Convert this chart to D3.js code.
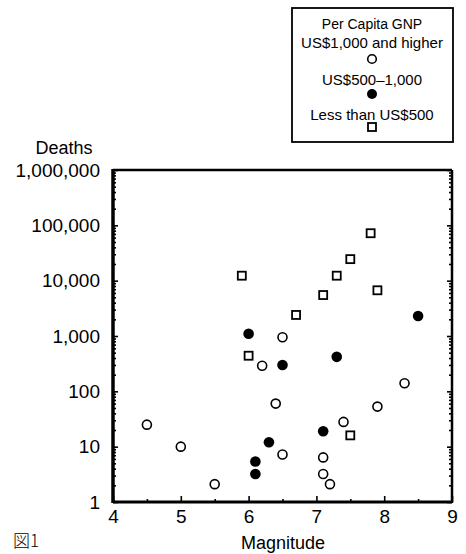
<!DOCTYPE html>
<html>
<head>
<meta charset="utf-8">
<script src="https://cdn.jsdelivr.net/npm/d3@7"></script>
<style>
  body { margin: 0; background: #fff; }
  svg { font-family: "Liberation Sans", Arial, sans-serif; }
  .axis text { font-size: 19px; fill: #000; }
  .axis line { stroke: #000; stroke-width: 1.6; }
  .legend text { font-size: 15px; fill: #000; }
</style>
</head>
<body>
<div id="chart"></div>
<script>
  // earthquakes: magnitude vs deaths, by per capita GNP group
  var highMag = [4.5, 5.0, 5.5, 6.2, 6.4, 6.5, 6.5, 7.1, 7.1, 7.2, 7.4, 7.9, 8.3]
  var highDeaths = [25, 10, 2.1, 290, 60, 950, 7.2, 6.4, 3.2, 2.1, 28, 53, 140]

  var midMag = [6.0, 6.5, 6.3, 6.1, 6.1, 7.3, 7.1, 8.5]
  var midDeaths = [1100, 300, 12, 5.4, 3.2, 420, 19, 2300]

  var lowMag = [5.9, 6.0, 6.7, 7.1, 7.3, 7.5, 7.8, 7.9, 7.5]
  var lowDeaths = [12300, 440, 2400, 5500, 12300, 24500, 72000, 6700, 16]

  var xTicks = [4, 5, 6, 7, 8, 9]
  var xMinor = [4.5, 5.5, 6.5, 7.5, 8.5]
  var yTicks = [1, 10, 100, 1000, 10000, 100000, 1000000]

  var legendTitle = "Per Capita GNP"
  var legendLabels = ["US$1,000 and higher", "US$500\u20131,000", "Less than US$500"]

  var width = 466, height = 554;
  var plotLeft = 113, plotRight = 452, plotTop = 170, plotBottom = 502;

  var svg = d3.select("#chart").append("svg")
    .attr("width", width)
    .attr("height", height);

  var x = d3.scaleLinear().domain([4, 9]).range([plotLeft, plotRight]);
  var y = d3.scaleLog().domain([1, 1000000]).range([plotBottom, plotTop]);

  // minor ticks for log axis
  var yMinor = [];
  for (var e = 0; e < 6; e++) {
    for (var m = 2; m < 10; m++) yMinor.push(m * Math.pow(10, e));
  }

  function noDomain(g){ g.select(".domain").remove(); }

  // left axis
  svg.append("g")
    .attr("class", "axis")
    .attr("transform", "translate(" + plotLeft + ",0)")
    .call(d3.axisLeft(y).tickValues(yTicks).tickFormat(d3.format(","))
      .tickSizeInner(-5).tickSizeOuter(0).tickPadding(13))
    .call(noDomain);

  svg.append("g")
    .attr("class", "axis")
    .attr("transform", "translate(" + plotLeft + ",0)")
    .call(d3.axisLeft(y).tickValues(yMinor).tickFormat("")
      .tickSizeInner(-3).tickSizeOuter(0))
    .call(noDomain);

  // right axis
  svg.append("g")
    .attr("class", "axis")
    .attr("transform", "translate(" + plotRight + ",0)")
    .call(d3.axisRight(y).tickValues(yTicks).tickFormat("")
      .tickSizeInner(-5).tickSizeOuter(0))
    .call(noDomain);

  svg.append("g")
    .attr("class", "axis")
    .attr("transform", "translate(" + plotRight + ",0)")
    .call(d3.axisRight(y).tickValues(yMinor).tickFormat("")
      .tickSizeInner(-3).tickSizeOuter(0))
    .call(noDomain);

  // bottom axis
  svg.append("g")
    .attr("class", "axis")
    .attr("transform", "translate(0," + plotBottom + ")")
    .call(d3.axisBottom(x).tickValues(xTicks).tickFormat(d3.format("d"))
      .tickSizeInner(-6).tickSizeOuter(0).tickPadding(8))
    .call(noDomain);

  svg.append("g")
    .attr("class", "axis")
    .attr("transform", "translate(0," + plotBottom + ")")
    .call(d3.axisBottom(x).tickValues(xMinor).tickFormat("")
      .tickSizeInner(-3).tickSizeOuter(0))
    .call(noDomain);

  // frame
  svg.append("line").attr("x1", plotLeft).attr("x2", plotLeft).attr("y1", plotTop - 1).attr("y2", plotBottom + 1)
    .attr("stroke", "#000").attr("stroke-width", 3.5);
  svg.append("line").attr("x1", plotLeft).attr("x2", plotRight).attr("y1", plotBottom).attr("y2", plotBottom)
    .attr("stroke", "#000").attr("stroke-width", 3);
  svg.append("line").attr("x1", plotRight).attr("x2", plotRight).attr("y1", plotTop).attr("y2", plotBottom + 1)
    .attr("stroke", "#000").attr("stroke-width", 2.5);
  svg.append("line").attr("x1", plotLeft).attr("x2", plotRight).attr("y1", plotTop).attr("y2", plotTop)
    .attr("stroke", "#000").attr("stroke-width", 2.5);

  // axis titles
  svg.append("text")
    .attr("x", 64)
    .attr("y", 154)
    .attr("text-anchor", "middle")
    .style("font-size", "18px")
    .text("Deaths");

  svg.append("text")
    .attr("x", 283)
    .attr("y", 549)
    .attr("text-anchor", "middle")
    .style("font-size", "18px")
    .text("Magnitude");

  svg.append("text")
    .attr("x", 13)
    .attr("y", 547)
    .style("font-family", "'Noto Sans CJK JP'")
    .style("font-size", "17px")
    .style("font-weight", "300")
    .text("図1");

  // points
  var plot = svg.append("g");

  plot.selectAll(".high")
    .data(d3.zip(highMag, highDeaths))
  .enter().append("circle")
    .attr("class", "high")
    .attr("cx", function(d){ return x(d[0]); })
    .attr("cy", function(d){ return y(d[1]); })
    .attr("r", 4.5)
    .attr("fill", "#fff")
    .attr("stroke", "#000")
    .attr("stroke-width", 1.6);

  plot.selectAll(".mid")
    .data(d3.zip(midMag, midDeaths))
  .enter().append("circle")
    .attr("class", "mid")
    .attr("cx", function(d){ return x(d[0]); })
    .attr("cy", function(d){ return y(d[1]); })
    .attr("r", 5.3)
    .attr("fill", "#000");

  plot.selectAll(".low")
    .data(d3.zip(lowMag, lowDeaths))
  .enter().append("rect")
    .attr("class", "low")
    .attr("x", function(d){ return x(d[0]) - 4; })
    .attr("y", function(d){ return y(d[1]) - 4; })
    .attr("width", 8)
    .attr("height", 8)
    .attr("fill", "#fff")
    .attr("stroke", "#000")
    .attr("stroke-width", 1.8);

  // legend
  var legend = svg.append("g").attr("class", "legend");
  var cx = 372;

  legend.append("rect")
    .attr("x", 292).attr("y", 8)
    .attr("width", 161).attr("height", 134)
    .attr("fill", "none")
    .attr("stroke", "#000")
    .attr("stroke-width", 1.8);

  legend.append("text")
    .attr("x", cx).attr("y", 29)
    .attr("text-anchor", "middle")
    .style("font-size", "14px")
    .text(legendTitle);

  var rowY = [48, 85, 120];
  legend.selectAll(".lab")
    .data(legendLabels)
  .enter().append("text")
    .attr("class", "lab")
    .attr("x", cx)
    .attr("y", function(d, i){ return rowY[i]; })
    .attr("text-anchor", "middle")
    .text(function(d){ return d; });

  legend.append("circle")
    .attr("cx", cx).attr("cy", 59).attr("r", 4.3)
    .attr("fill", "#fff").attr("stroke", "#000").attr("stroke-width", 1.6);
  legend.append("circle")
    .attr("cx", cx).attr("cy", 94).attr("r", 5)
    .attr("fill", "#000");
  legend.append("rect")
    .attr("x", cx - 4).attr("y", 123).attr("width", 8).attr("height", 8)
    .attr("fill", "#fff").attr("stroke", "#000").attr("stroke-width", 1.8);
</script>
</body>
</html>
